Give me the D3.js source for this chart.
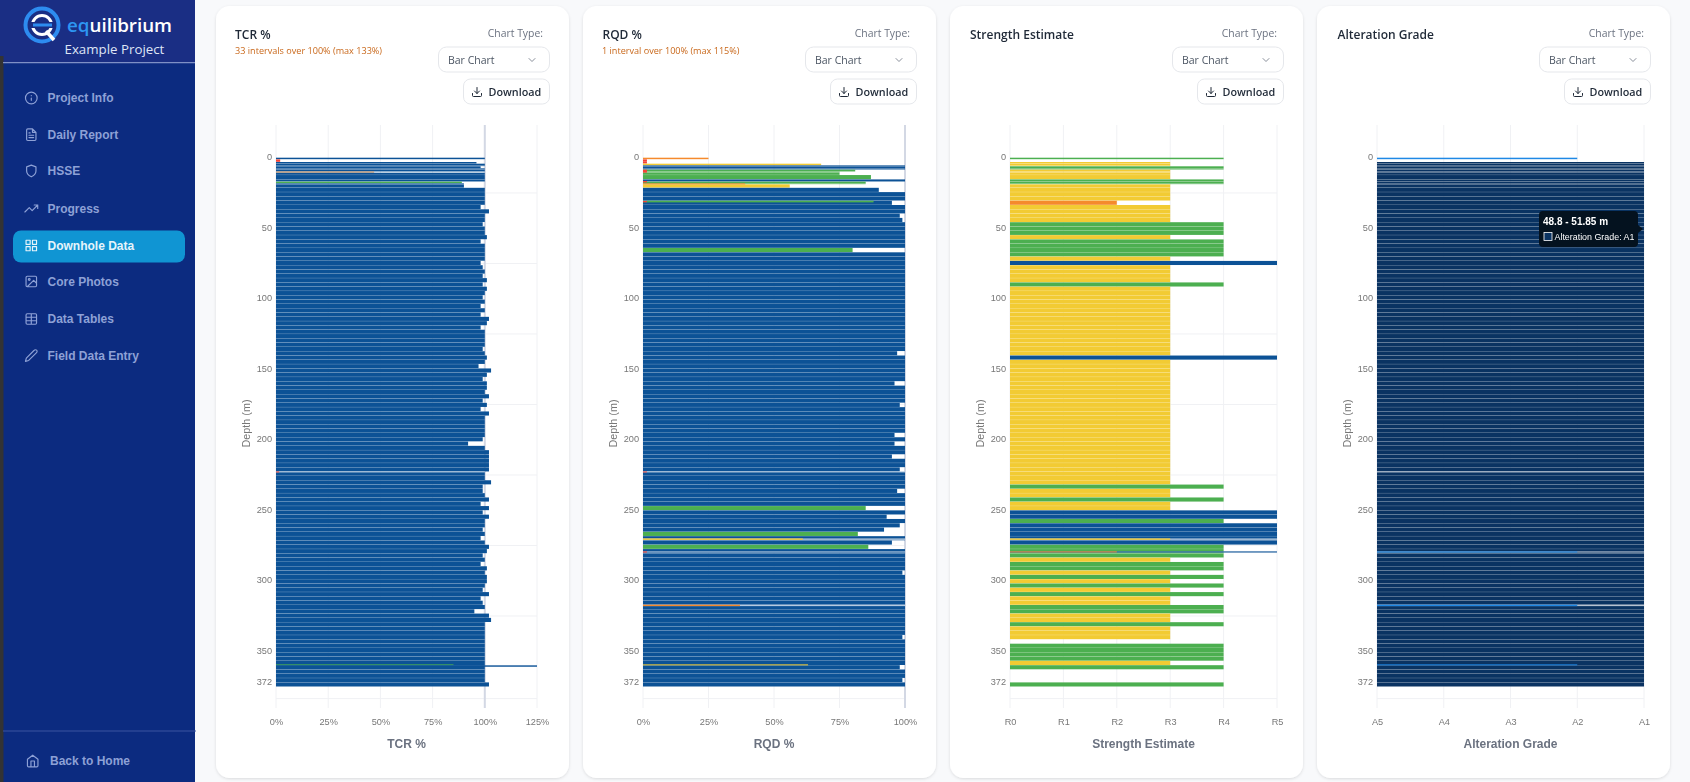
<!DOCTYPE html>
<html>
<head>
<meta charset="utf-8">
<title>Downhole Data</title>
<script src="https://cdn.jsdelivr.net/npm/d3@7"></script>
<style>
  html, body { margin: 0; padding: 0; background: #f8f9fb; overflow: hidden; }
  svg { display: block; filter: blur(0.35px); }
  text { font-family: "Liberation Sans", Arial, sans-serif; }
  .ui { font-family: "Open Sans", "Noto Sans", sans-serif; }
</style>
</head>
<body>
<div class="canvas"></div>
<script>
// depth of the top of every interval (m), the last base closes the hole
const depthTop = [
  0, 1.2, 3.05, 4.25, 5.45, 6.1, 7.55, 8.5, 9.9, 10.65, 12.3, 15.4, 17, 18.2, 18.9,
  21.35, 24.4, 27.45, 30.5, 33.55, 36.6, 39.65, 42.7, 45.75, 48.8,
  51.85, 54.9, 57.95, 61, 64.05, 67.1, 70.15, 73.2, 76.25, 79.3,
  82.35, 85.4, 88.45, 91.5, 94.55, 97.6, 100.65, 103.7, 106.75, 109.8,
  112.85, 115.9, 118.95, 122, 125.05, 128.1, 131.15, 134.2, 137.25, 140.3,
  143.35, 146.4, 149.45, 152.5, 155.55, 158.6, 161.65, 164.7, 167.75, 170.8,
  173.85, 176.9, 179.95, 183, 186.05, 189.1, 192.15, 195.2, 198.25, 201.3,
  204.35, 207.4, 210.45, 213.5, 216.55, 219.6, 222.65, 225.7, 228.75, 231.8,
  234.85, 237.9, 240.95, 244, 247.05, 250.1, 253.15, 256.2, 259.25, 262.3,
  265.35, 268.4, 271.45, 274.5, 277.55, 280.6, 283.65, 286.7, 289.75, 292.8,
  295.85, 298.9, 301.95, 305, 308.05, 311.1, 314.15, 317.2, 320.25, 323.3,
  326.35, 329.4, 332.45, 335.5, 338.55, 341.6, 344.65, 347.7, 350.75, 353.8,
  356.85, 359.9, 362.95, 366, 369.05, 372.1,
];
const holeBase = 375.15;

const tcrValues = [
  100, 2, 96, 100, 100, 98, 100, 100, 47, 100, 100, 100, 89, 90, 90,
  100, 100, 100, 100, 98, 102, 100, 100, 99, 100,
  100, 101, 98, 100, 100, 100, 100, 98, 99, 100,
  99, 101, 99, 101, 100, 99, 100, 98, 100, 98,
  102, 101, 98, 100, 100, 100, 100, 99, 100, 101,
  100, 97, 103, 101, 99, 101, 101, 100, 102, 99,
  101, 98, 102, 100, 100, 100, 100, 100, 99, 92,
  100, 102, 102, 102, 102, 102, 100, 100, 103, 99,
  99, 100, 102, 98, 102, 99, 102, 100, 100, 99,
  100, 98, 100, 102, 101, 99, 100, 98, 101, 100,
  101, 101, 100, 99, 102, 98, 99, 100, 95, 102,
  103, 100, 100, 100, 100, 100, 100, 100, 100, 100,
  100, 100, 100, 100, 100, 102,
];

const rqdValues = [
  25, 1.5, 1.5, 68, 100, 100, 100, 81, 75, 75, 87, 100, 85, 85, 56,
  90, 100, 100, 95, 100, 100, 98, 99, 100, 100,
  100, 100, 100, 100, 80, 100, 100, 100, 100, 100,
  100, 100, 100, 100, 100, 100, 100, 100, 100, 100,
  100, 100, 100, 100, 100, 100, 100, 100, 97, 100,
  100, 100, 100, 100, 100, 96, 100, 100, 100, 100,
  98, 100, 100, 100, 100, 100, 100, 96, 100, 96,
  100, 100, 95, 100, 100, 98, 100, 100, 100, 100,
  97, 100, 100, 100, 85, 100, 93, 100, 98, 92,
  82, 100, 95, 86, 100, 100, 100, 100, 100, 99,
  100, 100, 100, 100, 100, 100, 100, 100, 100, 100,
  100, 100, 100, 100, 99, 100, 100, 100, 100, 100,
  100, 98, 100, 100, 99, 100,
];

// grade numbers, R0 to R5 and A1 to A5
const strengthValues = [
  4, null, 3, 3, 3, 4, 4, 3, 3, 3, 3, 4, 4, 4, 3,
  3, 3, 3, 2, 3, 3, 3, 3, 4, 4,
  4, 3, 4, 4, 4, 4, 3, 5, 3, 3,
  3, 3, 4, 3, 3, 3, 3, 3, 3, 3,
  3, 3, 3, 3, 3, 3, 3, 3, 3, 5,
  3, 3, 3, 3, 3, 3, 3, 3, 3, 3,
  3, 3, 3, 3, 3, 3, 3, 3, 3, 3,
  3, 3, 3, 3, 3, 3, 3, 3, 3, 4,
  3, 3, 4, 3, 3, 5, 5, 4, 5, 5,
  5, 5, 5, 4, 4, 4, 3, 4, 4, 3,
  4, 3, 4, 3, 4, 3, 3, 4, 4, 3,
  3, 4, 3, 3, 3, null, 4, 4, 4, 4,
  3, 4, null, null, null, 4,
];

const alterationValues = [
  2, null, 1, 1, 1, 1, 1, 1, 1, 1, 1, 1, 1, 1, 1,
  1, 1, 1, 1, 1, 1, 1, 1, 1, 1,
  1, 1, 1, 1, 1, 1, 1, 1, 1, 1,
  1, 1, 1, 1, 1, 1, 1, 1, 1, 1,
  1, 1, 1, 1, 1, 1, 1, 1, 1, 1,
  1, 1, 1, 1, 1, 1, 1, 1, 1, 1,
  1, 1, 1, 1, 1, 1, 1, 1, 1, 1,
  1, 1, 1, 1, 1, 1, 1, 1, 1, 1,
  1, 1, 1, 1, 1, 1, 1, 1, 1, 1,
  1, 1, 1, 1, 1, 1, 1, 1, 1, 1,
  1, 1, 1, 1, 1, 1, 1, 1, 1, 1,
  1, 1, 1, 1, 1, 1, 1, 1, 1, 1,
  1, 1, 1, 1, 1, 1,
];

// short intervals logged inside the regular runs
const thinTop = [8.5, 16.5, 30.5, 30.7, 18.2, 222.5, 270, 279.2, 279.2, 317, 359.3, 360];
const thinBase = [10.6, 17.5, 31.7, 31.6, 18.9, 223.2, 271, 280, 279.9, 318, 360, 361];
const thinOpen = [false, false, false, false, false, true, true, true, false, true, false, false];
const thinTcr = [null, null, null, null, null, 1.5, null, null, null, null, 85, 125];
const thinRqd = [1.5, 1.5, 88, 1.5, 39, 1.5, 61, 1.5, null, 37, 63, null];
const thinStrength = [null, null, null, null, null, null, 3, 5, 2, null, null, null];
const thinAlteration = [null, null, null, null, null, 5, null, 2, null, 2, 2, null];

const depthTicks = [0, 50, 100, 150, 200, 250, 300, 350, 372];
const depthGrid = [25, 75, 125, 175, 225, 275, 325, 383.6];
const tcrTicks = [0, 25, 50, 75, 100, 125];
const rqdTicks = [0, 25, 50, 75, 100];
const strengthTicks = [0, 1, 2, 3, 4, 5];
const alterationTicks = [5, 4, 3, 2, 1];

const navItems = ["Project Info", "Daily Report", "HSSE", "Progress", "Downhole Data", "Core Photos", "Data Tables", "Field Data Entry"];

const icons = {
  info: "M12 2a10 10 0 1 0 0 20 10 10 0 0 0 0-20z M12 16v-4 M12 8h.01",
  file: "M14 2H6a2 2 0 0 0-2 2v16a2 2 0 0 0 2 2h12a2 2 0 0 0 2-2V8z M14 2v6h6 M16 13H8 M16 17H8 M10 9H8",
  shield: "M12 22s8-4 8-10V5l-8-3-8 3v7c0 6 8 10 8 10z",
  trend: "M23 6l-9.5 9.5-5-5L1 18 M17 6h6v6",
  grid: "M3 3h7v7H3z M14 3h7v7h-7z M14 14h7v7h-7z M3 14h7v7H3z",
  image: "M5 3h14a2 2 0 0 1 2 2v14a2 2 0 0 1-2 2H5a2 2 0 0 1-2-2V5a2 2 0 0 1 2-2z M21 15l-5-5L5 21 M8.5 7a1.5 1.5 0 1 0 0 3 1.5 1.5 0 0 0 0-3z",
  table: "M5 3h14a2 2 0 0 1 2 2v14a2 2 0 0 1-2 2H5a2 2 0 0 1-2-2V5a2 2 0 0 1 2-2z M3 9h18 M3 15h18 M12 3v18",
  pencil: "M17 3a2.83 2.83 0 1 1 4 4L7.5 20.5 2 22l1.5-5.5L17 3z",
  home: "M3 9l9-7 9 7v11a2 2 0 0 1-2 2H5a2 2 0 0 1-2-2z M9 22V12h6v10",
  download: "M21 15v4a2 2 0 0 1-2 2H5a2 2 0 0 1-2-2v-4 M7 10l5 5 5-5 M12 15V3",
  chevron: "M6 9l6 6 6-6",
};
const navIcons = ["info", "file", "shield", "trend", "grid", "image", "table", "pencil"];
const navY = [98, 134.7, 171, 208.5, 245.5, 281.5, 319, 355.5];

const dims = { width: 1690, height: 782 };
const plot = { top: 125, bottom: 708 };

const svg = d3
  .select(".canvas")
  .append("svg")
  .attr("width", dims.width)
  .attr("height", dims.height);

const shadow = svg.append("defs").append("filter").attr("id", "card-shadow");
shadow
  .append("feDropShadow")
  .attr("dx", 0)
  .attr("dy", 1)
  .attr("stdDeviation", 1.5)
  .attr("flood-color", "#000")
  .attr("flood-opacity", 0.12);

const icon = (parent, name, x, y, size, colour) =>
  parent
    .append("path")
    .attr("d", icons[name])
    .attr("transform", `translate(${x - size / 2},${y - size / 2}) scale(${size / 24})`)
    .attr("fill", "none")
    .attr("stroke", colour)
    .attr("stroke-width", 2)
    .attr("stroke-linecap", "round")
    .attr("stroke-linejoin", "round");

// page side bar
const side = svg.append("g");
side.append("rect").attr("width", 195).attr("height", dims.height).attr("fill", "#0c2b80");
side.append("rect").attr("width", 195).attr("height", 62).attr("fill", "#1a2e84");
side.append("rect").attr("y", 56).attr("width", 3.5).attr("height", dims.height - 56).attr("fill", "#333");
side.append("line").attr("x1", 3).attr("x2", 195).attr("y1", 62.7).attr("y2", 62.7).attr("stroke", "#7f90c6").attr("stroke-width", 1.2);
side.append("line").attr("x1", 3).attr("x2", 196).attr("y1", 731).attr("y2", 731).attr("stroke", "#3a55a0");

// logo
const logo = side.append("g").attr("transform", "translate(42,25)");
logo.append("circle").attr("r", 16.5).attr("fill", "none").attr("stroke", "#2d8cf0").attr("stroke-width", 4);
logo.append("circle").attr("r", 9.5).attr("fill", "none").attr("stroke", "#fff").attr("stroke-width", 3);
logo.append("rect").attr("x", -14).attr("y", -3).attr("width", 25).attr("height", 6).attr("fill", "#1a2e84");
logo.append("rect").attr("x", -9).attr("y", -1.5).attr("width", 19).attr("height", 3).attr("fill", "#2d8cf0");
logo.append("path").attr("d", "M4 6l8 9").attr("stroke", "#fff").attr("stroke-width", 3.5);

const brand = side
  .append("text")
  .attr("class", "ui")
  .attr("x", 67)
  .attr("y", 32)
  .attr("font-size", 18.8)
  .attr("font-weight", 600)
  .attr("fill", "#fff");
brand.append("tspan").attr("fill", "#2d96f3").text("eq");
brand.append("tspan").text("uilibrium");

side
  .append("text")
  .attr("class", "ui")
  .attr("x", 64.5)
  .attr("y", 53.5)
  .attr("font-size", 13.3)
  .attr("fill", "#dfe5f6")
  .text("Example Project");

side
  .append("rect")
  .attr("x", 13)
  .attr("y", 230.5)
  .attr("width", 172)
  .attr("height", 32)
  .attr("rx", 8)
  .attr("fill", "#1095d3");

navItems.forEach((name, i) => {
  const active = name === "Downhole Data";
  const colour = active ? "#e6f4fb" : "#8ea1d6";
  icon(side, navIcons[i], 31.3, navY[i], 14, colour);
  side
    .append("text")
    .attr("x", 47.5)
    .attr("y", navY[i] + 4)
    .attr("font-size", 12)
    .attr("font-weight", 600)
    .attr("fill", colour)
    .text(name);
});

icon(side, "home", 32.7, 761, 14, "#8ea1d6");
side
  .append("text")
  .attr("x", 50)
  .attr("y", 765)
  .attr("font-size", 12)
  .attr("font-weight", 600)
  .attr("fill", "#8ea1d6")
  .text("Back to Home");

// y scale is shared, all four logs use the same depth
const y = d3.scaleLinear().domain([0, holeBase]).range([157.7, 686.7]);

const rqdColor = d3
  .scaleThreshold()
  .domain([25, 50, 75, 90])
  .range(["#f44336", "#f58a2c", "#f2cb33", "#4caf50", "#0c5296"]);
const strengthColor = d3
  .scaleOrdinal()
  .domain([1, 2, 3, 4, 5])
  .range(["#f44336", "#f58a2c", "#f2cb33", "#4caf50", "#0c5296"]);
const alterationColor = d3.scaleOrdinal().domain([1, 2]).range(["#0a3362", "#1e88e5"]);

const tracks = [
  {
    title: "TCR %",
    note: "33 intervals over 100% (max 133%)",
    x: d3.scaleLinear().domain([0, 125]).range([0, 261]),
    ticks: tcrTicks,
    format: (d) => `${d}%`,
    start: 0,
    end: 100,
    refLine: 100,
    values: tcrValues,
    thin: thinTcr,
    color: rqdColor,
  },
  {
    title: "RQD %",
    note: "1 interval over 100% (max 115%)",
    x: d3.scaleLinear().domain([0, 100]).range([0, 262]),
    ticks: rqdTicks,
    format: (d) => `${d}%`,
    start: 0,
    end: 100,
    refLine: 100,
    values: rqdValues,
    thin: thinRqd,
    color: rqdColor,
  },
  {
    title: "Strength Estimate",
    note: "",
    x: d3.scaleLinear().domain([0, 5]).range([0, 267]),
    ticks: strengthTicks,
    format: (d) => `R${d}`,
    start: 0,
    end: 5,
    refLine: null,
    values: strengthValues,
    thin: thinStrength,
    color: strengthColor,
  },
  {
    title: "Alteration Grade",
    note: "",
    x: d3.scaleLinear().domain([5, 1]).range([0, 267]),
    ticks: alterationTicks,
    format: (d) => `A${d}`,
    start: 5,
    end: 1,
    refLine: null,
    values: alterationValues,
    thin: thinAlteration,
    color: alterationColor,
  },
];

const rows = (track) =>
  depthTop
    .map((top, i) => ({
      top,
      base: i < depthTop.length - 1 ? depthTop[i + 1] : holeBase,
      value: track.values[i],
    }))
    .filter((d) => d.value !== null);

const thinRows = (track) =>
  thinTop
    .map((top, i) => ({ top, base: thinBase[i], open: thinOpen[i], value: track.thin[i] }))
    .filter((d) => d.value !== null);

tracks.forEach((track, i) => {
  const left = 216 + 367 * i;
  const card = svg.append("g").attr("transform", `translate(${left},0)`);

  card
    .append("rect")
    .attr("y", 6)
    .attr("width", 353)
    .attr("height", 772)
    .attr("rx", 14)
    .attr("fill", "#fff")
    .attr("filter", "url(#card-shadow)");

  // header
  card
    .append("text")
    .attr("class", "ui")
    .attr("x", 19 + i * 0.5)
    .attr("y", 38.5)
    .attr("font-size", 12)
    .attr("font-weight", 600)
    .attr("fill", "#1f2937")
    .text(track.title);

  card
    .append("text")
    .attr("class", "ui")
    .attr("x", 19)
    .attr("y", 53.5)
    .attr("font-size", 9.1)
    .attr("fill", "#c9681b")
    .text(track.note);

  card
    .append("text")
    .attr("class", "ui")
    .attr("x", 327)
    .attr("y", 36.5)
    .attr("text-anchor", "end")
    .attr("font-size", 10.4)
    .attr("fill", "#6b7280")
    .text("Chart Type:");

  card
    .append("rect")
    .attr("x", 222.5)
    .attr("y", 47)
    .attr("width", 111)
    .attr("height", 25)
    .attr("rx", 8)
    .attr("fill", "#fff")
    .attr("stroke", "#e5e7eb");
  card
    .append("text")
    .attr("class", "ui")
    .attr("x", 232)
    .attr("y", 64)
    .attr("font-size", 10.5)
    .attr("fill", "#4b5563")
    .text("Bar Chart");
  icon(card, "chevron", 316, 60, 12, "#6b7280").attr("stroke-width", 1.6);

  card
    .append("rect")
    .attr("x", 247.5)
    .attr("y", 79)
    .attr("width", 86)
    .attr("height", 25)
    .attr("rx", 7)
    .attr("fill", "#fff")
    .attr("stroke", "#e5e7eb");
  icon(card, "download", 261, 92, 12, "#1f2937");
  card
    .append("text")
    .attr("class", "ui")
    .attr("x", 272.5)
    .attr("y", 96)
    .attr("font-size", 10.8)
    .attr("font-weight", 600)
    .attr("fill", "#1f2937")
    .text("Download");

  const graph = card.append("g").attr("transform", "translate(60,0)");
  const x = track.x;

  // grid
  graph
    .selectAll(".grid-x")
    .data(track.ticks)
    .enter()
    .append("line")
    .attr("x1", (d) => x(d))
    .attr("x2", (d) => x(d))
    .attr("y1", plot.top)
    .attr("y2", plot.bottom)
    .attr("stroke", "#f0f1f4");

  graph
    .selectAll(".grid-y")
    .data(depthGrid)
    .enter()
    .append("line")
    .attr("x1", 0)
    .attr("x2", x(track.ticks[track.ticks.length - 1]))
    .attr("y1", (d) => y(d))
    .attr("y2", (d) => y(d))
    .attr("stroke", "#f0f1f4");

  if (track.refLine !== null) {
    graph
      .append("line")
      .attr("x1", x(track.refLine))
      .attr("x2", x(track.refLine))
      .attr("y1", plot.top)
      .attr("y2", plot.bottom)
      .attr("stroke", "#d3d8e4")
      .attr("stroke-width", 2);
  }

  // intervals
  graph
    .selectAll(".bar")
    .data(rows(track))
    .enter()
    .append("rect")
    .attr("class", "bar")
    .attr("x", x(track.start))
    .attr("y", (d) => y(d.top))
    .attr("width", (d) => x(d.value) - x(track.start))
    .attr("height", (d) => Math.max(0.6, y(d.base) - y(d.top) - 0.2))
    .attr("fill", (d) => track.color(d.value));

  const thin = thinRows(track);

  graph
    .selectAll(".gap")
    .data(thin.filter((d) => d.open))
    .enter()
    .append("rect")
    .attr("class", "gap")
    .attr("x", x(track.start))
    .attr("y", (d) => y(d.top))
    .attr("width", x(track.end) - x(track.start))
    .attr("height", (d) => y(d.base) - y(d.top))
    .attr("fill", "#fff")
    .attr("fill-opacity", 0.7);

  graph
    .selectAll(".thin")
    .data(thin)
    .enter()
    .append("rect")
    .attr("class", "thin")
    .attr("x", x(track.start))
    .attr("y", (d) => y(d.top))
    .attr("width", (d) => x(d.value) - x(track.start))
    .attr("height", (d) => y(d.base) - y(d.top))
    .attr("fill", (d) => track.color(d.value));

  // axes
  const yAxis = graph
    .append("g")
    .call(d3.axisLeft(y).tickValues(depthTicks).tickFormat(d3.format("d")).tickSize(0).tickPadding(4));
  yAxis.select(".domain").remove();
  yAxis.selectAll("text").attr("font-size", 9.2).attr("fill", "#777").attr("dy", "0.22em");

  const xAxis = graph
    .append("g")
    .attr("transform", `translate(0,${plot.bottom})`)
    .call(d3.axisBottom(x).tickValues(track.ticks).tickFormat(track.format).tickSize(0).tickPadding(10));
  xAxis.select(".domain").remove();
  xAxis.selectAll("text").attr("font-size", 9.2).attr("fill", "#777");

  graph
    .append("text")
    .attr("transform", `translate(-26.5,${(plot.top + plot.bottom) / 2 + 7}) rotate(-90)`)
    .attr("text-anchor", "middle")
    .attr("font-size", 10.8)
    .attr("fill", "#777")
    .text("Depth (m)");

  graph
    .append("text")
    .attr("x", x(track.ticks[track.ticks.length - 1]) / 2)
    .attr("y", 748)
    .attr("text-anchor", "middle")
    .attr("font-size", 12)
    .attr("font-weight", 700)
    .attr("fill", "#6b7280")
    .text(track.title);
});

// hover tooltip left open on the alteration log
const tooltip = svg.append("g").attr("transform", "translate(1539,211)");
tooltip
  .append("path")
  .attr("d", "M4 0H95a4 4 0 0 1 4 4V14l5 4-5 4V32a4 4 0 0 1-4 4H4a4 4 0 0 1-4-4V4a4 4 0 0 1 4-4z")
  .attr("fill", "#04121f");
tooltip
  .append("text")
  .attr("x", 4)
  .attr("y", 13.5)
  .attr("font-size", 10)
  .attr("font-weight", 700)
  .attr("fill", "#fff")
  .text("48.8 - 51.85 m");
tooltip
  .append("rect")
  .attr("x", 5)
  .attr("y", 21.5)
  .attr("width", 8)
  .attr("height", 8)
  .attr("fill", alterationColor(1))
  .attr("stroke", "#fff")
  .attr("stroke-width", 0.8);
tooltip
  .append("text")
  .attr("x", 15.5)
  .attr("y", 29)
  .attr("font-size", 8.9)
  .attr("fill", "#fff")
  .text("Alteration Grade: A1");
</script>
</body>
</html>
